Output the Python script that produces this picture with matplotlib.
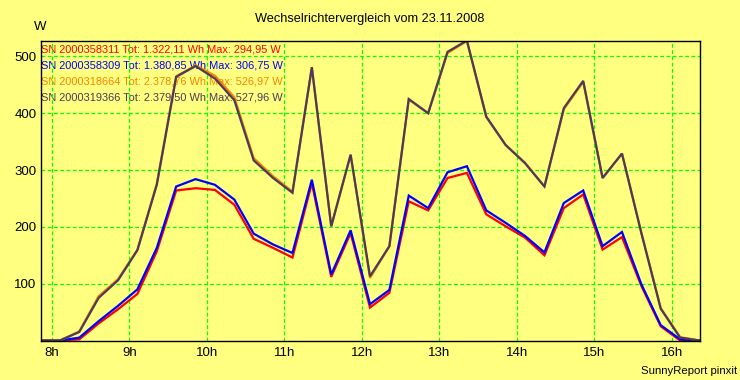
import numpy as np
import matplotlib.pyplot as plt
from matplotlib.ticker import FixedLocator

# =========================================================
# DATA (15 min values, W)
# =========================================================

start_h = 7.855
n_points = 35
times = start_h + 0.25 * np.arange(n_points)

red_w = [0, 0, 2, 30, 55, 82, 157, 264, 268, 265, 239, 179, 163, 146, 277,
         112, 189, 58, 84, 245, 229, 286, 294.95, 222, 201, 181, 150, 233, 257,
         160, 182, 96, 25, 0, 0]

blue_w = [0, 0, 5, 34, 61, 90, 163, 271, 284, 274, 248, 188, 169, 154, 283,
          116, 194, 64, 89, 255, 233, 296, 306.75, 229, 207, 184, 155, 242, 264,
          166, 191, 99, 27, 2, 0]

orange_w = [0, 0, 16, 78, 108, 160, 276, 465, 484, 466, 428, 321, 289, 262, 480,
            201, 327, 110, 166, 424, 400, 506, 526.97, 393, 344, 313, 271, 407, 455,
            286, 329, 190, 57, 6, 0]

gray_w = [0, 0, 15, 75, 106, 159, 274, 464, 483, 461, 423, 317, 286, 260, 481,
          201, 327, 113, 166, 425, 400, 508, 527.96, 394, 344, 312, 271, 409, 457,
          286, 329, 189, 56, 5, 0]

legend_texts = [
    "SN 2000358311 Tot: 1.322,11 Wh Max: 294,95 W",
    "SN 2000358309 Tot: 1.380,85 Wh Max: 306,75 W",
    "SN 2000318664 Tot: 2.378,76 Wh Max: 526,97 W",
    "SN 2000319366 Tot: 2.379,50 Wh Max: 527,96 W",
]

hour_ticks = [8, 9, 10, 11, 12, 13, 14, 15, 16]
hour_labels = ["8h", "9h", "10h", "11h", "12h", "13h", "14h", "15h", "16h"]
w_ticks = [100, 200, 300, 400, 500]

# =========================================================
# PLOT
# =========================================================

bg = "#FFFF80"
colors = ["#FF0000", "#0000FF", "#FF8000", "#4A3A5C"]

plt.rcParams["font.family"] = ["Liberation Sans", "DejaVu Sans"]

fig = plt.figure(figsize=(7.4, 3.8), dpi=100, facecolor=bg)
ax = fig.add_axes([40.5 / 740, 1 - 340.5 / 380, 659 / 740, 300 / 380])
ax.set_facecolor(bg)

for series, c in zip([red_w, blue_w, orange_w, gray_w], colors):
    ax.plot(times, series, color=c, linewidth=1.6, zorder=2,
            solid_joinstyle="miter")

ax.set_xlim(times[0], times[-1])
ax.set_ylim(0, 528)

ax.xaxis.set_major_locator(FixedLocator(hour_ticks))
ax.set_xticklabels(hour_labels)
ax.yaxis.set_major_locator(FixedLocator(w_ticks))

ax.set_axisbelow(True)
ax.grid(True, color="#00FF00", linestyle=(0, (3, 2)), linewidth=0.9)
ax.tick_params(length=0, labelsize=9.5, colors="black")
ax.tick_params(axis="x", pad=5)
ax.tick_params(axis="y", pad=3)

for spine in ax.spines.values():
    spine.set_color("black")
    spine.set_linewidth(1.0)

# legend text sits under the lines and grid
for i, (txt, c) in enumerate(zip(legend_texts, colors)):
    ax.text(0.001, 1 - (9 + 16 * i) / 300, txt, transform=ax.transAxes,
            color=c, fontsize=7.9, ha="left", va="center", zorder=0.1)

fig.text(0.5, 1 - 19 / 380, "Wechselrichtervergleich vom 23.11.2008",
         ha="center", va="center", fontsize=9.2)
fig.text(40 / 740, 1 - 27 / 380, "W", ha="center", va="center", fontsize=9.5)
fig.text(737 / 740, 1 - 371 / 380, "SunnyReport pinxit",
         ha="right", va="center", fontsize=8.2)

fig.savefig("out.png", dpi=100, facecolor=bg)
